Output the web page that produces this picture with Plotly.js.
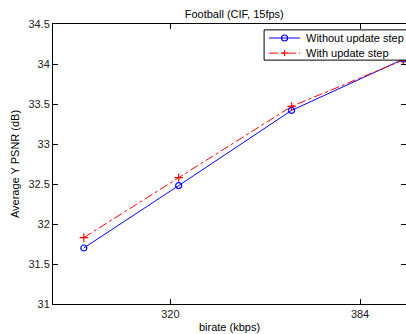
<!DOCTYPE html>
<html><head><meta charset="utf-8">
<script src="https://cdn.plot.ly/plotly-3.0.1.min.js"></script>
<style>html,body{margin:0;padding:0;background:#fff;}#chart{width:406px;height:334px;}</style>
</head><body><div id="chart"></div>
<script>
const bitrate = [290.8, 322.8, 360.9, 398.6];
const withoutUpdate = [31.70, 32.48, 33.42, 34.06];
const withUpdate = [31.83, 32.58, 33.47, 34.05];
const seriesNames = ["Without update step", "With update step"];
const xTicks = [320, 384];
const yTicks = [31, 31.5, 32, 32.5, 33, 33.5, 34, 34.5];
const yTickText = ["31", "31.5", "32", "32.5", "33", "33.5", "34", "34.5"];

const font = "Liberation Sans, Arial, sans-serif";
const blue = "#0000ff", red = "#ff0000";
const traces = [
  {x: bitrate, y: withoutUpdate, name: seriesNames[0], mode: "lines+markers",
   line: {color: blue, width: 1, dash: "solid"},
   marker: {symbol: "circle-open", size: 6, color: blue, line: {width: 1.2}},
   cliponaxis: false},
  {x: bitrate, y: withUpdate, name: seriesNames[1], mode: "lines+markers",
   line: {color: red, width: 1, dash: "dashdot"},
   marker: {symbol: "cross-thin-open", size: 6, color: red, line: {width: 1.2, color: red}},
   cliponaxis: false}
];

// custom MATLAB-style legend (compact box) in paper coordinates
const lx0 = 0.598, lx1 = 1.05, ly0 = 0.871, ly1 = 0.979;
const row1 = 0.95, row2 = 0.896;
const sx0 = 0.612, sx1 = 0.700, sxm = 0.656, tx = 0.710;
const shapes = [
  {type: "rect", xref: "paper", yref: "paper", x0: lx0, x1: lx1, y0: ly0, y1: ly1,
   fillcolor: "#fff", line: {color: "#000", width: 1}, layer: "above"},
  {type: "line", xref: "paper", yref: "paper", x0: sx0, x1: sx1, y0: row1, y1: row1,
   line: {color: blue, width: 1}, layer: "above"},
  {type: "circle", xref: "paper", yref: "paper", xsizemode: "pixel", ysizemode: "pixel",
   xanchor: sxm, yanchor: row1, x0: -3, x1: 3, y0: -3, y1: 3,
   fillcolor: "rgba(0,0,0,0)", line: {color: blue, width: 1.2}, layer: "above"},
  {type: "line", xref: "paper", yref: "paper", x0: sx0, x1: sx1, y0: row2, y1: row2,
   line: {color: red, width: 1, dash: "dashdot"}, layer: "above"},
  {type: "line", xref: "paper", yref: "paper", xsizemode: "pixel", xanchor: sxm, x0: -3, x1: 3, y0: row2, y1: row2,
   line: {color: red, width: 1.2}, layer: "above"},
  {type: "line", xref: "paper", yref: "paper", ysizemode: "pixel", yanchor: row2, x0: sxm, x1: sxm, y0: -3, y1: 3,
   line: {color: red, width: 1.2}, layer: "above"}
];
const annotations = [
  {xref: "paper", yref: "paper", x: tx, y: row1, text: seriesNames[0], showarrow: false,
   xanchor: "left", yanchor: "middle", font: {family: font, size: 11, color: "#000"}},
  {xref: "paper", yref: "paper", x: tx, y: row2, text: seriesNames[1], showarrow: false,
   xanchor: "left", yanchor: "middle", font: {family: font, size: 11, color: "#000"}}
];

const layout = {
  width: 406, height: 334,
  margin: {l: 53, r: 0, t: 24, b: 30, autoexpand: false},
  paper_bgcolor: "#fff", plot_bgcolor: "#fff",
  font: {family: font, size: 11, color: "#000"},
  title: {text: "Football (CIF, 15fps)", font: {family: font, size: 11, color: "#000"}, x: 0.577, xanchor: "center", y: 0.958, yanchor: "middle"},
  xaxis: {range: [280.4, 399.5], tickvals: xTicks, ticktext: xTicks.map(String), automargin: false,
    ticks: "inside", ticklen: 5, tickcolor: "#000", showline: true, linecolor: "#000", linewidth: 1, mirror: "ticks",
    showgrid: false, zeroline: false, tickfont: {family: font, size: 11, color: "#222"},
    title: {text: "birate (kbps)", font: {family: font, size: 11}, standoff: 4}},
  yaxis: {range: [31, 34.5], tickvals: yTicks, ticktext: yTickText, automargin: false,
    ticks: "inside", ticklen: 5, tickcolor: "#000", showline: true, linecolor: "#000", linewidth: 1, mirror: "ticks",
    showgrid: false, zeroline: false, tickfont: {family: font, size: 11, color: "#222"},
    title: {text: "Average Y PSNR (dB)", font: {family: font, size: 11}, standoff: 6}},
  showlegend: false,
  shapes: shapes,
  annotations: annotations
};
Plotly.newPlot("chart", traces, layout, {displayModeBar: false, staticPlot: true});
</script></body></html>
